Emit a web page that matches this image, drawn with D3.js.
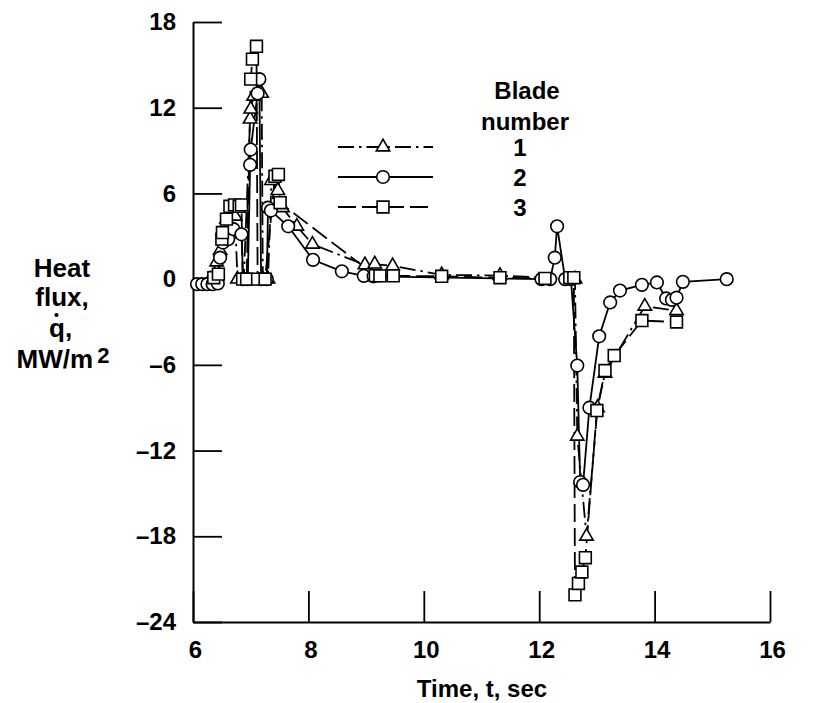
<!DOCTYPE html>
<html><head><meta charset="utf-8">
<script src="https://cdn.jsdelivr.net/npm/d3@7"></script>
<style>
body{margin:0;background:#fff}
svg{display:block}
text{font-family:"Liberation Sans",Arial,Helvetica,sans-serif;font-weight:bold;fill:#000}
</style>
</head><body>
<svg id="c" width="818" height="703"></svg>
<script>
// ---- data ----
const xTicks = [6, 8, 10, 12, 14, 16];
const xTickLabels = ["6", "8", "10", "12", "14", "16"];
const yTicks = [18, 12, 6, 0, -6, -12, -18, -24];
const yTickLabels = ["18", "12", "6", "0", "–6", "–12", "–18", "–24"];
const bladeNames = ["1", "2", "3"];

const blade1T = [6.30,6.41,6.47,6.58,6.66,6.73,6.77,6.88,6.99,7.00,7.05,7.19,7.21,7.30,7.36,7.47,7.55,7.80,8.07,8.98,9.15,9.46,10.31,11.32,12.62,12.66,12.82,13.01,13.14,13.83,14.38];
const blade1Q = [0.0,1.2,2.0,4.2,4.8,4.4,0,0,11.2,11.9,12.8,13.0,0,0,6.9,6.2,5.0,3.7,2.44,1.0,1.05,0.93,0.3,0.25,0,-11.0,-18.0,-9.0,-6.6,-1.9,-2.2];

const blade2T = [6.07,6.16,6.25,6.34,6.43,6.47,6.52,6.61,6.70,6.84,6.87,6.95,6.99,7.00,7.12,7.15,7.18,7.28,7.30,7.35,7.65,8.08,8.58,8.96,9.13,12.04,12.19,12.27,12.31,12.45,12.55,12.66,12.71,12.76,12.87,13.04,13.23,13.40,13.78,14.04,14.20,14.30,14.38,14.49,15.25];
const blade2Q = [-0.35,-0.35,-0.35,-0.35,-0.3,1.5,2.56,2.8,3.5,3.14,0,0,8.0,9.07,13.0,14.0,0,0,5.0,4.8,3.7,1.35,0.55,0.23,0.2,0,0,1.5,3.7,0,0,-6.05,-14.2,-14.4,-9.0,-4.0,-1.63,-0.8,-0.4,-0.23,-1.35,-1.45,-1.3,-0.19,0];

const blade3T = [6.36,6.44,6.50,6.51,6.58,6.64,6.72,6.80,6.84,6.86,6.93,7.00,7.03,7.10,7.12,7.25,7.42,7.48,7.51,9.16,9.24,9.47,10.31,11.32,12.10,12.53,12.60,12.62,12.68,12.74,12.80,13.00,13.14,13.30,13.78,14.38];
const blade3Q = [0.1,0.35,2.8,3.26,4.2,5.1,5.2,5.1,5.2,0,0,14.0,15.4,16.3,0,0,7.2,7.33,5.35,0.25,0.23,0.23,0.2,0.1,0.05,0.1,0.1,-22.1,-21.3,-20.5,-19.5,-9.2,-6.4,-5.35,-2.9,-3.0];

// ---- build series ----
const zip = (T, Q) => T.map((t, i) => ({t, q: Q[i]}));
const series = [
  {name: bladeNames[0], pts: zip(blade1T, blade1Q), dash: "16,5,2.5,5", sym: d3.symbolTriangle, size: 78},
  {name: bladeNames[1], pts: zip(blade2T, blade2Q), dash: null, sym: d3.symbolCircle, size: 125},
  {name: bladeNames[2], pts: zip(blade3T, blade3Q), dash: "18,6", sym: d3.symbolSquare, size: 140}
];

const svg = d3.select("#c");
const x = d3.scaleLinear().domain([6, 16]).range([193, 770]);
const y = d3.scaleLinear().domain([-24, 18]).range([622, 22]);

// ---- axes ----
const gy = svg.append("g").attr("transform", `translate(${x(6)},0)`)
  .call(d3.axisLeft(y).tickValues(yTicks).tickFormat((d, i) => yTickLabels[i])
    .tickSizeInner(-29).tickSizeOuter(0).tickPadding(17));
const gx = svg.append("g").attr("transform", `translate(0,${y(-24)})`)
  .call(d3.axisBottom(x).tickValues(xTicks).tickFormat((d, i) => xTickLabels[i])
    .tickSizeInner(-31).tickSizeOuter(0).tickPadding(19));
[gx, gy].forEach(g => {
  g.select(".domain").attr("stroke", "#000").attr("stroke-width", 2);
  g.selectAll(".tick line").attr("stroke", "#000").attr("stroke-width", 1.8);
  g.selectAll(".tick text").attr("font-size", 24).attr("font-family", '"Liberation Sans",Arial,sans-serif').attr("font-weight", "bold").attr("fill", "#000");
});
gx.selectAll(".tick text").attr("dx", 2);

// ---- series ----
const line = d3.line().x(d => x(d.t)).y(d => y(d.q));
series.forEach(s => {
  svg.append("path").datum(s.pts).attr("d", line)
    .attr("fill", "none").attr("stroke", "#000").attr("stroke-width", 1.8)
    .attr("stroke-dasharray", s.dash);
});
series.forEach(s => {
  svg.append("g").selectAll("path").data(s.pts).join("path")
    .attr("d", d3.symbol().type(s.sym).size(s.size))
    .attr("transform", d => `translate(${x(d.t)},${y(d.q)})`)
    .attr("fill", "#fff").attr("stroke", "#000").attr("stroke-width", 1.6);
});

// ---- legend ----
svg.append("text").attr("x", 527).attr("y", 99).attr("text-anchor", "middle").attr("font-size", 24).text("Blade");
svg.append("text").attr("x", 525).attr("y", 130).attr("text-anchor", "middle").attr("font-size", 24).text("number");
series.forEach((s, i) => {
  const ly = 147 + i * 30;
  svg.append("line").attr("x1", 338).attr("x2", 433).attr("y1", ly).attr("y2", ly)
    .attr("stroke", "#000").attr("stroke-width", 1.8).attr("stroke-dasharray", s.dash);
  svg.append("path").attr("d", d3.symbol().type(s.sym).size(s.size)())
    .attr("transform", `translate(383,${ly})`)
    .attr("fill", "#fff").attr("stroke", "#000").attr("stroke-width", 1.6);
  svg.append("text").attr("x", 520).attr("y", ly + 9).attr("text-anchor", "middle")
    .attr("font-size", 24).text(s.name);
});

// ---- axis titles ----
const yt = svg.append("g");
yt.append("text").attr("x", 62).attr("y", 277).attr("text-anchor", "middle").attr("font-size", 26).text("Heat");
yt.append("text").attr("x", 62).attr("y", 306).attr("text-anchor", "middle").attr("font-size", 26).text("flux,");
yt.append("text").attr("x", 49).attr("y", 337).attr("text-anchor", "start").attr("font-size", 26).text("q,");
yt.append("circle").attr("cx", 56.5).attr("cy", 315).attr("r", 2.1).attr("fill", "#000");
const mw = yt.append("text").attr("x", 63).attr("y", 368).attr("text-anchor", "middle").attr("font-size", 26);
mw.append("tspan").text("MW/m");
mw.append("tspan").attr("dx", 4).attr("dy", -5).attr("font-size", 22).text("2");
svg.append("text").attr("x", 482).attr("y", 697).attr("text-anchor", "middle").attr("font-size", 24).text("Time, t, sec");
</script>
</body></html>
